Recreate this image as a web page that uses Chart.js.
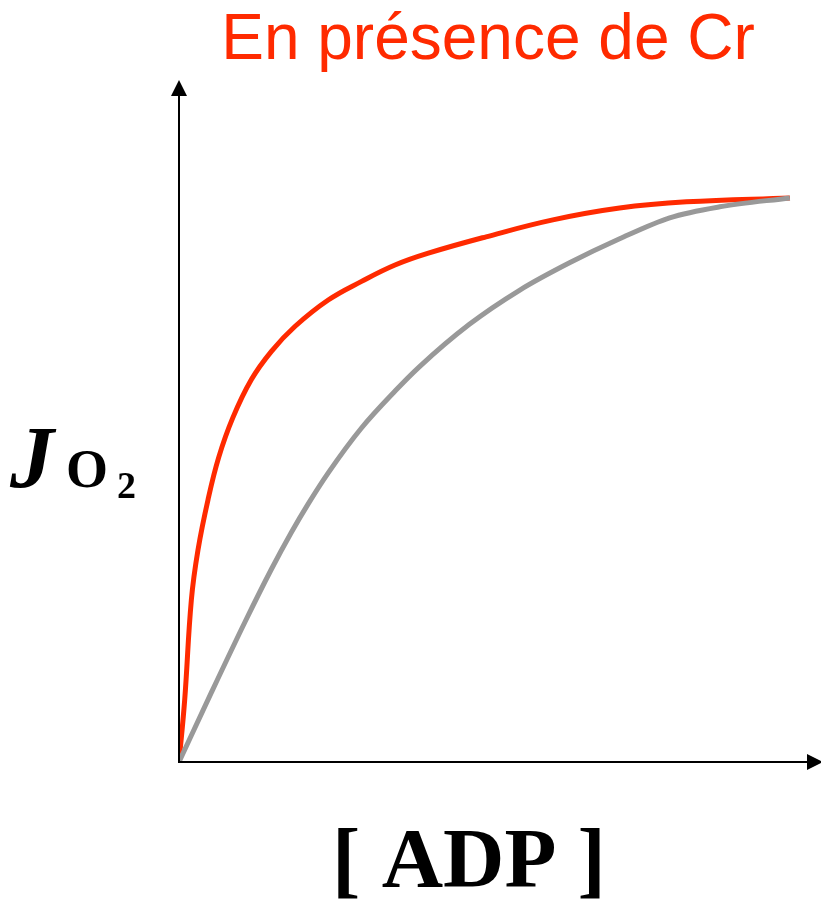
<!DOCTYPE html>
<html>
<head>
<meta charset="utf-8">
<script src="https://cdn.jsdelivr.net/npm/chart.js@4/dist/chart.umd.min.js"></script>
<style>
  html, body { margin: 0; padding: 0; background: #fff; }
  #wrap { width: 821px; height: 909px; position: relative; }
</style>
</head>
<body>
<div id="wrap"><canvas id="chart"></canvas></div>
<script>
// ---- data (normalised: both curves end at 100,100) ----
const titleText = 'En présence de Cr';
const xLabel = '[ ADP ]';

const crX = [0, 0.93, 2.02, 3.11, 4.75, 6.5, 8.8, 11.85, 15.13, 18.97, 24.43, 29.89, 35.36, 40.82, 50.28, 61.2, 72.13, 83.07, 100];
const crY = [0, 11.0, 28.7, 37.6, 46.5, 54.0, 61.0, 67.8, 72.8, 77.2, 81.9, 85.2, 88.1, 90.2, 93.1, 96.1, 98.2, 99.3, 100];

const ctrlX = [0, 5.25, 10.82, 15.08, 18.36, 21.15, 24.43, 29.84, 35.41, 39.34, 47.54, 55.74, 63.93, 72.13, 80.33, 88.52, 100];
const ctrlY = [0, 12.2, 24.86, 34.08, 40.64, 45.76, 51.26, 59.17, 65.8, 70.05, 77.59, 83.62, 88.49, 92.75, 96.47, 98.42, 100];

const xMax = 105.1;
const yMax = 120.9;

function toPoints(xs, ys) {
    return xs.map((x, i) => ({ x: x, y: ys[i] }));
}

// axes with arrow heads + the free text labels
const decorations = {
    id: 'decorations',
    afterDraw(chart) {
        const ctx = chart.ctx;
        const a = chart.chartArea;
        ctx.save();
        ctx.strokeStyle = '#000';
        ctx.fillStyle = '#000';
        ctx.lineWidth = 2;

        // y axis
        ctx.beginPath();
        ctx.moveTo(a.left, a.bottom + 1);
        ctx.lineTo(a.left, a.top + 10);
        ctx.stroke();
        ctx.beginPath();
        ctx.moveTo(a.left, a.top);
        ctx.lineTo(a.left - 8, a.top + 16);
        ctx.lineTo(a.left + 8, a.top + 16);
        ctx.closePath();
        ctx.fill();

        // x axis
        ctx.beginPath();
        ctx.moveTo(a.left - 1, a.bottom);
        ctx.lineTo(a.right - 10, a.bottom);
        ctx.stroke();
        ctx.beginPath();
        ctx.moveTo(a.right + 2, a.bottom);
        ctx.lineTo(a.right - 14, a.bottom - 8);
        ctx.lineTo(a.right - 14, a.bottom + 8);
        ctx.closePath();
        ctx.fill();

        // title
        ctx.fillStyle = '#ff2a00';
        ctx.font = '64px "Liberation Sans", Arial, sans-serif';
        ctx.textAlign = 'center';
        ctx.textBaseline = 'alphabetic';
        ctx.fillText(titleText, 488, 59);

        // x label
        ctx.fillStyle = '#000';
        ctx.font = 'bold 85px "Liberation Serif", "Times New Roman", serif';
        ctx.fillText(xLabel, 469, 887);

        // y label: J O2
        ctx.textAlign = 'left';
        ctx.font = 'italic bold 88px "Liberation Serif", "Times New Roman", serif';
        ctx.fillText('J', 10, 487);
        ctx.font = 'bold 54px "Liberation Serif", "Times New Roman", serif';
        ctx.fillText('O', 66, 487);
        ctx.font = 'bold 38px "Liberation Serif", "Times New Roman", serif';
        ctx.fillText('2', 117, 498);
        ctx.restore();
    }
};

new Chart(document.getElementById('chart'), {
    type: 'scatter',
    data: {
        datasets: [
            {
                label: 'Contrôle',
                data: toPoints(ctrlX, ctrlY),
                showLine: true,
                borderColor: '#999999',
                borderWidth: 5,
                pointRadius: 0,
                cubicInterpolationMode: 'monotone'
            },
            {
                label: 'Cr',
                data: toPoints(crX, crY),
                showLine: true,
                borderColor: '#ff2a00',
                borderWidth: 5,
                pointRadius: 0,
                tension: 0.4
            }
        ]
    },
    options: {
        responsive: true,
        maintainAspectRatio: false,
        animation: false,
        layout: { padding: { left: 179, right: 0, top: 80, bottom: 147 } },
        plugins: {
            legend: { display: false },
            tooltip: { enabled: false }
        },
        scales: {
            x: {
                type: 'linear',
                min: 0,
                max: xMax,
                display: false
            },
            y: {
                type: 'linear',
                min: 0,
                max: yMax,
                display: false
            }
        }
    },
    plugins: [decorations]
});
</script>
</body>
</html>
